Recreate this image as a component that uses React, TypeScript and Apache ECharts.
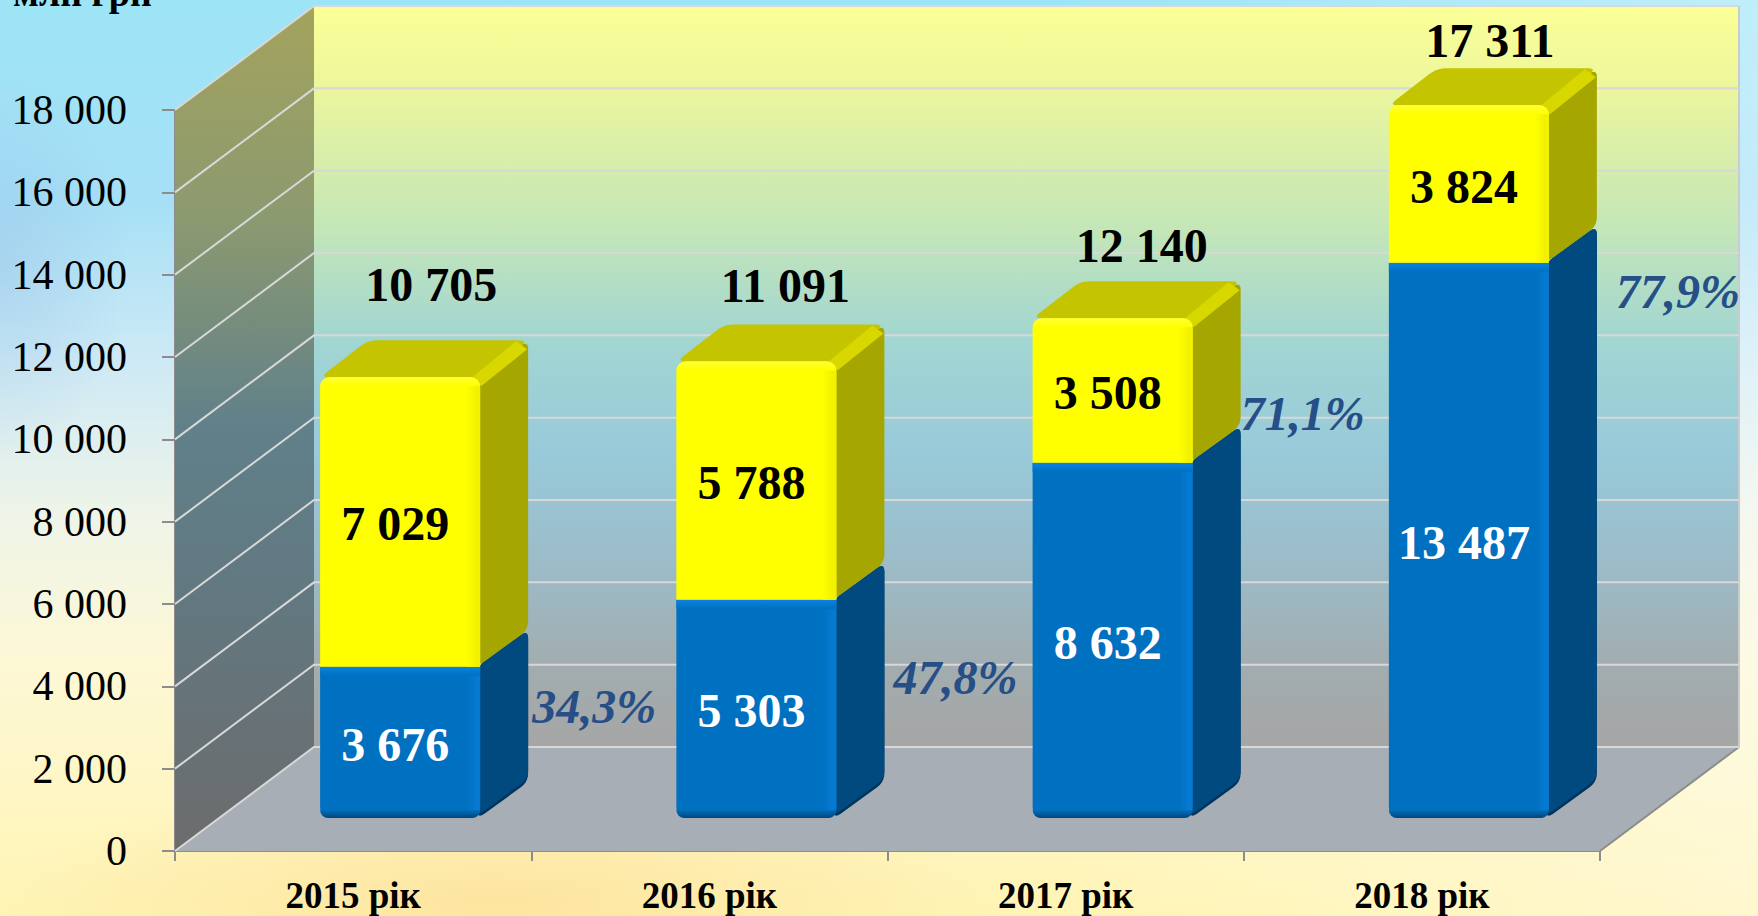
import React, { useEffect, useRef } from "react";
import * as echarts from "echarts";

const categories = ["2015 рік", "2016 рік", "2017 рік", "2018 рік"];
const blueValues = [3676, 5303, 8632, 13487];
const yellowValues = [7029, 5788, 3508, 3824];
const totals = [10705, 11091, 12140, 17311];
const shares = ["34,3%", "47,8%", "71,1%", "77,9%"];
const yTicks = [0, 2000, 4000, 6000, 8000, 10000, 12000, 14000, 16000, 18000];
const unitLabel = "млн грн";

// layout constants (px)
const W = 1758, H = 916;
const DX = 139, DY = 104;          // depth of the 3-D box
const BAR_W = 160, BAR_OX = 47, BAR_OY = 33, BAR_DX = 48, BAR_DY = 37;
const PCT_POS = [[119, 40], [124, 78], [115, -49], [134, 29]];
const TOTAL_POS = [[36, -56], [34, -39], [34, -36], [26, -28]];
const SERIF = '"Liberation Serif","Times New Roman",serif';

const fmt = (n: number) => String(n).replace(/\B(?=(\d{3})+$)/g, " ");

function roundPoly(pts: number[][], r: number) {
  const out: number[][] = [];
  const n = pts.length;
  for (let i = 0; i < n; i++) {
    const p = pts[i], a = pts[(i + n - 1) % n], b = pts[(i + 1) % n];
    const la = Math.hypot(a[0] - p[0], a[1] - p[1]), lb = Math.hypot(b[0] - p[0], b[1] - p[1]);
    const ra = Math.min(r, la / 2) / la, rb = Math.min(r, lb / 2) / lb;
    const s = [p[0] + (a[0] - p[0]) * ra, p[1] + (a[1] - p[1]) * ra];
    const e = [p[0] + (b[0] - p[0]) * rb, p[1] + (b[1] - p[1]) * rb];
    for (let t = 0; t <= 1.001; t += 0.2) {
      const u = 1 - t;
      out.push([u * u * s[0] + 2 * u * t * p[0] + t * t * e[0], u * u * s[1] + 2 * u * t * p[1] + t * t * e[1]]);
    }
  }
  return out;
}

const vGrad = (stops: [number, string][]) =>
  new echarts.graphic.LinearGradient(0, 0, 0, 1, stops.map(([offset, color]) => ({ offset, color })));
const hGrad = (stops: [number, string][]) =>
  new echarts.graphic.LinearGradient(0, 0, 1, 0, stops.map(([offset, color]) => ({ offset, color })));

type Pal = { front: string; edgeR: string; edgeT: string; edgeB: string; side: string; sideEdge: string; top: string; topEdge: string; text: string };
const BLUE: Pal = { front: "#0070c0", edgeR: "#0679d0", edgeT: "#0a84e0", edgeB: "#00467a", side: "#004a7f", sideEdge: "#00345c", top: "#005a9a", topEdge: "#0060a4", text: "#ffffff" };
const YELLOW: Pal = { front: "#ffff00", edgeR: "#f2f200", edgeT: "#ffff30", edgeB: "#ffff00", side: "#a6a600", sideEdge: "#a6a600", top: "#c4c400", topEdge: "#d8d800", text: "#000000" };

function barRender(pal: Pal, isTop: boolean) {
  return (params: any, api: any) => {
    const idx = api.value(0);
    const c0 = api.coord([idx, api.value(1)]);
    const c1 = api.coord([idx, api.value(2)]);
    const x0 = c0[0] - BAR_W / 2 + BAR_OX;
    const x1 = x0 + BAR_W;
    const yB = c0[1] - BAR_OY;
    const yT = c1[1] - BAR_OY;
    const h = yB - yT;
    const r: number[] = isTop ? [10, 10, 0, 0] : [0, 0, 10, 10];
    const children: any[] = [];
    if (!isTop) {
      // dark lip under the side face
      children.push({
        type: "polygon",
        shape: { points: roundPoly([[x1 - 3, yT], [x1 + BAR_DX, yT - BAR_DY], [x1 + BAR_DX, yB - BAR_DY + 1], [x1 - 3, yB + 1]], 9) },
        style: { fill: pal.sideEdge },
      });
    }
    children.push({
      type: "polygon",
      shape: { points: roundPoly([[x1 - 3, yT], [x1 + BAR_DX, yT - BAR_DY], [x1 + BAR_DX, yB - BAR_DY - (isTop ? 0 : 2)], [x1 - 3, yB - (isTop ? 0 : 2)]], 9) },
      style: { fill: pal.side },
    });
    if (isTop) {
      children.push({
        type: "polygon",
        shape: { points: roundPoly([[x0, yT], [x0 + BAR_DX, yT - BAR_DY], [x1 + BAR_DX, yT - BAR_DY], [x1, yT]], 9) },
        style: { fill: pal.top },
      });
      children.push({
        type: "polygon",
        shape: { points: [[x1 - 9, yT + 1], [x1 + BAR_DX - 12, yT - BAR_DY + 1], [x1 + BAR_DX - 1, yT - BAR_DY + 9], [x1 + 1, yT + 9]] },
        style: { fill: pal.topEdge },
      });
    }
    children.push({
      type: "rect",
      shape: { x: x0, y: yT, width: BAR_W, height: h, r },
      style: { fill: pal.front },
    });
    children.push({
      type: "rect",
      shape: { x: x1 - 14, y: yT, width: 14, height: h, r: isTop ? [0, 10, 0, 0] : [0, 0, 10, 0] },
      style: { fill: hGrad([[0, pal.front], [0.7, pal.edgeR], [1, pal.edgeR]]) },
    });
    children.push({
      type: "rect",
      shape: { x: x0, y: yT, width: BAR_W, height: 9, r: isTop ? [10, 10, 0, 0] : 0 },
      style: { fill: vGrad([[0, pal.edgeT], [1, pal.front]]) },
    });
    if (!isTop) {
      children.push({
        type: "rect",
        shape: { x: x0, y: yB - 8, width: BAR_W, height: 8, r: [0, 0, 10, 10] },
        style: { fill: vGrad([[0, pal.front], [1, pal.edgeB]]) },
      });
    }
    return { type: "group", children };
  };
}

function labelRender(api: any, i: number) {
  const b = blueValues[i], y = yellowValues[i];
  const cx = api.coord([i, 0])[0] + 42;
  const yBase = api.coord([i, 0])[1] - BAR_OY;
  const yBlue = api.coord([i, b])[1] - BAR_OY;
  const yTop = api.coord([i, b + y])[1] - BAR_OY;
  const t = (text: string, x: number, yy: number, fill: string, size: number, italic = false) => ({
    type: "text",
    style: {
      text, x, y: yy, fill, align: "center", verticalAlign: "middle",
      font: `${italic ? "italic " : ""}bold ${size}px ${SERIF}`,
    },
  });
  return {
    type: "group",
    children: [
      t(fmt(b), cx, (yBase + yBlue) / 2 + 2, "#ffffff", 48),
      t(fmt(y), cx, (yBlue + yTop) / 2 + 2, "#000000", 48),
      t(fmt(totals[i]), cx + TOTAL_POS[i][0], yTop - BAR_DY + TOTAL_POS[i][1], "#000000", 48),
      t(shares[i], cx + PCT_POS[i][0] + 80, yBlue + PCT_POS[i][1], "#264e87", 48, true),
    ],
  };
}

export default function App() {
  const ref = useRef<HTMLDivElement>(null);
  useEffect(() => {
    const chart = echarts.init(ref.current!, undefined, { renderer: "svg" });
    chart.setOption({
      animation: false,
      backgroundColor: "transparent",
      grid: { left: 175, right: W - 1600, top: 110, bottom: H - 851 },
      xAxis: {
        type: "category",
        data: categories,
        axisLine: { show: true, lineStyle: { color: "#8c8c8c", width: 2 } },
        axisTick: { show: true, length: 10, lineStyle: { color: "#8c8c8c", width: 2 } },
        axisLabel: { color: "#000", fontFamily: SERIF, fontWeight: "bold", fontSize: 37, margin: 26 },
      },
      yAxis: {
        type: "value",
        min: 0,
        max: 18000,
        interval: 2000,
        axisLine: { show: true, lineStyle: { color: "#8c8c8c", width: 2 } },
        axisTick: { show: true, length: 13, lineStyle: { color: "#8c8c8c", width: 2 } },
        splitLine: { show: false },
        axisLabel: { color: "#000", fontFamily: SERIF, fontSize: 42, margin: 48, formatter: (v: number) => fmt(v) },
      },
      graphic: [
        {
          type: "text",
          x: 13,
          y: 12,
          style: { text: unitLabel, fill: "#000", font: `bold 38px ${SERIF}`, textVerticalAlign: "bottom" },
        },
      ],
      series: [
        {
          type: "custom",
          z: 1,
          silent: true,
          data: [[0, 0]],
          encode: { x: 0, y: 1 },
          renderItem: (params: any, api: any) => {
            const left = api.coord([0, 0])[0] - api.size([1, 0])[0] / 2;
            const right = left + api.size([1, 0])[0] * categories.length;
            const yb = api.coord([0, 0])[1];
            const yt = api.coord([0, 18000])[1];
            return {
              type: "group",
              children: [
                {
                  type: "polygon",
                  shape: { points: [[left + DX, yt - DY], [right + DX, yt - DY], [right + DX, yb - DY], [left + DX, yb - DY]] },
                  style: {
                    fill: vGrad([
                      [0, "#fbff96"], [0.1, "#eef79c"], [0.3, "#c4e6b8"], [0.45, "#a2d6d2"],
                      [0.6, "#98cada"], [0.75, "#9cbcc8"], [0.9, "#a2acae"], [1, "#a6a6a6"],
                    ]),
                  },
                },
                {
                  type: "polygon",
                  shape: { points: [[left, yt], [left + DX, yt - DY], [left + DX, yb - DY], [left, yb]] },
                  style: {
                    fill: vGrad([
                      [0, "#a3a35c"], [0.25, "#8c9a70"], [0.5, "#60808a"], [0.7, "#627880"], [1, "#6c6c6c"],
                    ]),
                  },
                },
                {
                  type: "polygon",
                  shape: { points: [[left, yb], [left + DX, yb - DY], [right + DX, yb - DY], [right, yb]] },
                  style: { fill: "#a8aeb5" },
                },
                { type: "line", shape: { x1: right, y1: yb, x2: right + DX, y2: yb - DY }, style: { stroke: "#8c8c8c", lineWidth: 2 } },
                { type: "line", shape: { x1: right + DX, y1: yt - DY, x2: right + DX, y2: yb - DY }, style: { stroke: "#c8ccd0", lineWidth: 2 } },
              ],
            };
          },
        },
        {
          type: "custom",
          z: 2,
          silent: true,
          data: yTicks.map((v) => [0, v]),
          encode: { x: 0, y: 1 },
          renderItem: (params: any, api: any) => {
            const left = api.coord([0, 0])[0] - api.size([1, 0])[0] / 2;
            const right = left + api.size([1, 0])[0] * categories.length;
            const y = api.coord([0, api.value(1)])[1];
            return {
              type: "polyline",
              shape: { points: [[left, y], [left + DX, y - DY], [right + DX, y - DY]] },
              style: { stroke: "#d8d8d8", lineWidth: 2, fill: "none" },
            };
          },
        },
        {
          type: "custom",
          name: "blue",
          z: 3,
          data: blueValues.map((v, i) => [i, 0, v]),
          encode: { x: 0, y: [1, 2] },
          renderItem: barRender(BLUE, false),
        },
        {
          type: "custom",
          name: "yellow",
          z: 4,
          data: yellowValues.map((v, i) => [i, blueValues[i], blueValues[i] + v]),
          encode: { x: 0, y: [1, 2] },
          renderItem: barRender(YELLOW, true),
        },
        {
          type: "custom",
          name: "labels",
          z: 5,
          data: totals.map((v, i) => [i, v]),
          encode: { x: 0, y: 1 },
          renderItem: (params: any, api: any) => labelRender(api, api.value(0)),
        },
      ],
    });
    return () => chart.dispose();
  }, []);
  return (
    <div
      style={{
        position: "fixed",
        left: 0,
        top: 0,
        width: W,
        height: H,
        overflow: "hidden",
        background:
          "radial-gradient(ellipse 130px 200px at 0px 260px, rgba(150,190,230,0.4), rgba(150,190,230,0) 100%)," +
          "radial-gradient(ellipse 500px 120px at 500px 900px, rgba(253,222,150,0.7), rgba(253,222,150,0) 100%)," +
          "linear-gradient(90deg, rgba(255,255,255,0) 60%, rgba(255,255,255,0.35) 100%)," +
          "linear-gradient(180deg, #9de5f6 0%, #a6e0f6 22%, #cfeaf5 40%, #eef4e8 56%, #fdf8d6 72%, #fff4b4 100%)",
      }}
    >
      <div ref={ref} style={{ width: W, height: H }} />
    </div>
  );
}
